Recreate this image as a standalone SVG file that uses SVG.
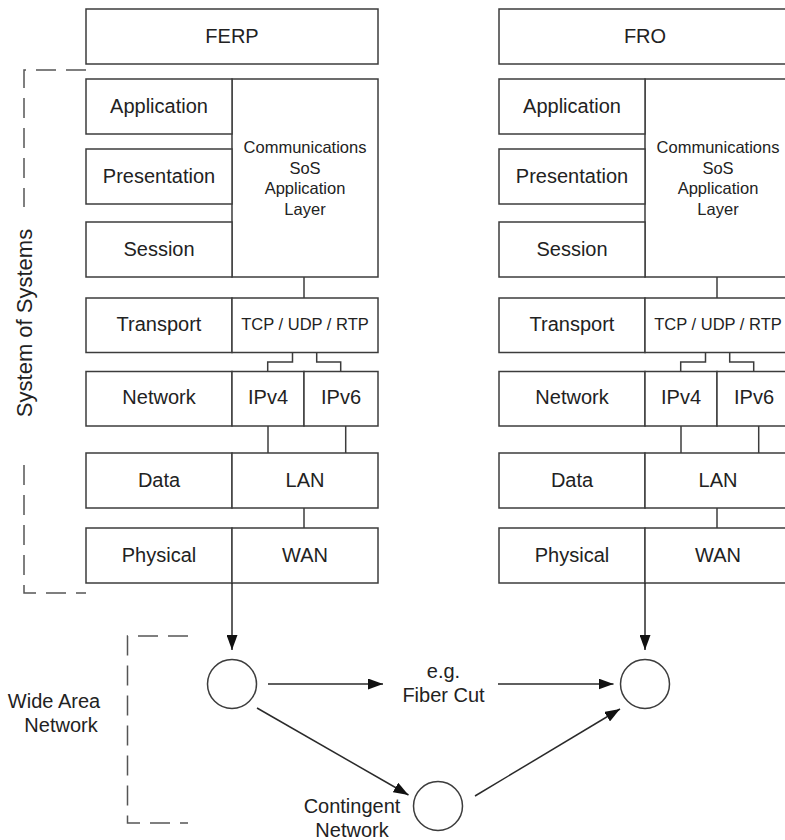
<svg xmlns="http://www.w3.org/2000/svg" width="785" height="840" viewBox="0 0 785 840">
  <style>
    .box { fill: #ffffff; stroke: #3c3c3c; stroke-width: 1.5; }
    .ln { fill: none; stroke: #3c3c3c; stroke-width: 1.5; }
    .dash { fill: none; stroke: #555555; stroke-width: 1.5; stroke-dasharray: 20 10; }
    .arrow { fill: none; stroke: #2a2a2a; stroke-width: 1.5; marker-end: url(#head); }
    .node { fill: #ffffff; stroke: #3c3c3c; stroke-width: 1.5; }
    text { font-family: "Liberation Sans", Arial, sans-serif; fill: #222222; text-anchor: middle; }
    .lbl { font-size: 20px; }
    .sm { font-size: 16.5px; }
  </style>
  <defs>
    <marker id="head" viewBox="0 0 15 11" refX="15" refY="5.5" markerWidth="15" markerHeight="11" markerUnits="userSpaceOnUse" orient="auto">
      <path d="M0,0 L15,5.5 L0,11 Z" fill="#111111"/>
    </marker>
    <!-- one protocol stack; the site name box is added per instance -->
    <g id="stack">
      <g id="comms-layer">
        <rect class="box" x="232" y="79" width="146" height="198"/>
        <text class="sm" x="305" y="153">Communications</text>
        <text class="sm" x="305" y="173.5">SoS</text>
        <text class="sm" x="305" y="194">Application</text>
        <text class="sm" x="305" y="214.5">Layer</text>
      </g>
      <g id="application">
        <rect class="box" x="86" y="79" width="146" height="55"/>
        <text class="lbl" x="159" y="113">Application</text>
      </g>
      <g id="presentation">
        <rect class="box" x="86" y="149" width="146" height="55"/>
        <text class="lbl" x="159" y="183">Presentation</text>
      </g>
      <g id="session">
        <rect class="box" x="86" y="222" width="146" height="55"/>
        <text class="lbl" x="159" y="256">Session</text>
      </g>
      <g id="transport">
        <rect class="box" x="86" y="298" width="146" height="54.5"/>
        <text class="lbl" x="159" y="331">Transport</text>
        <rect class="box" x="232" y="298" width="146" height="54.5"/>
        <text class="sm" x="305" y="330">TCP / UDP / RTP</text>
      </g>
      <g id="network">
        <rect class="box" x="86" y="371.5" width="146" height="54.5"/>
        <text class="lbl" x="159" y="404">Network</text>
        <rect class="box" x="232" y="371.5" width="72" height="54.5"/>
        <text class="lbl" x="268" y="404">IPv4</text>
        <rect class="box" x="304" y="371.5" width="74" height="54.5"/>
        <text class="lbl" x="341" y="404">IPv6</text>
      </g>
      <g id="data">
        <rect class="box" x="86" y="453" width="146" height="55"/>
        <text class="lbl" x="159" y="487">Data</text>
        <rect class="box" x="232" y="453" width="146" height="55"/>
        <text class="lbl" x="305" y="487">LAN</text>
      </g>
      <g id="physical">
        <rect class="box" x="86" y="528" width="146" height="55"/>
        <text class="lbl" x="159" y="562">Physical</text>
        <rect class="box" x="232" y="528" width="146" height="55"/>
        <text class="lbl" x="305" y="562">WAN</text>
      </g>
      <g id="stack-links">
        <path class="ln" d="M304,277 V298"/>
        <path class="ln" d="M292.5,352.5 V362 H267.7 V371.5"/>
        <path class="ln" d="M316.7,352.5 V362 H340.7 V371.5"/>
        <path class="ln" d="M268,426 V453"/>
        <path class="ln" d="M345.7,426 V453"/>
        <path class="ln" d="M304,508 V528"/>
      </g>
    </g>
  </defs>

  <!-- left site -->
  <g id="ferp">
    <rect class="box" x="86" y="9" width="292" height="55"/>
    <text class="lbl" x="232" y="43">FERP</text>
  </g>
  <g id="ferp-stack">
    <use href="#stack"/>
  </g>

  <!-- right site -->
  <g id="fro">
    <rect class="box" x="499" y="9" width="292" height="55"/>
    <text class="lbl" x="645" y="43">FRO</text>
  </g>
  <g id="fro-stack">
    <use href="#stack" transform="translate(413,0)"/>
  </g>

  <!-- scope brackets -->
  <g id="sos-bracket">
    <path class="dash" d="M86,70 H24 V207"/>
    <path class="dash" d="M24,465 V593 H86"/>
    <text class="lbl" font-size="22" style="font-size:22px" transform="translate(32,323) rotate(-90)">System of Systems</text>
  </g>
  <g id="wan-bracket">
    <path class="dash" d="M188,636 H127.5 V823 H188"/>
    <text class="lbl" x="54" y="708">Wide Area</text>
    <text class="lbl" x="61" y="732">Network</text>
  </g>

  <!-- WAN nodes -->
  <g id="node-ferp">
    <circle class="node" cx="232" cy="684" r="24.5"/>
  </g>
  <g id="node-fro">
    <circle class="node" cx="645" cy="684" r="24.5"/>
  </g>
  <g id="node-contingent">
    <circle class="node" cx="438" cy="806" r="24.5"/>
    <text class="lbl" x="352" y="813">Contingent</text>
    <text class="lbl" x="352" y="836.5">Network</text>
  </g>
  <g id="fiber-cut-label">
    <text class="lbl" x="443.5" y="678">e.g.</text>
    <text class="lbl" x="443.5" y="701.5">Fiber Cut</text>
  </g>

  <!-- connectors -->
  <g id="connectors">
    <path class="arrow" d="M232,583 V650"/>
    <path class="arrow" d="M645,583 V650"/>
    <path class="arrow" d="M268,684 H383"/>
    <path class="arrow" d="M498,684 H613.5"/>
    <path class="arrow" d="M257,708 L408.5,795"/>
    <path class="arrow" d="M475,796 L620,709"/>
  </g>
</svg>
